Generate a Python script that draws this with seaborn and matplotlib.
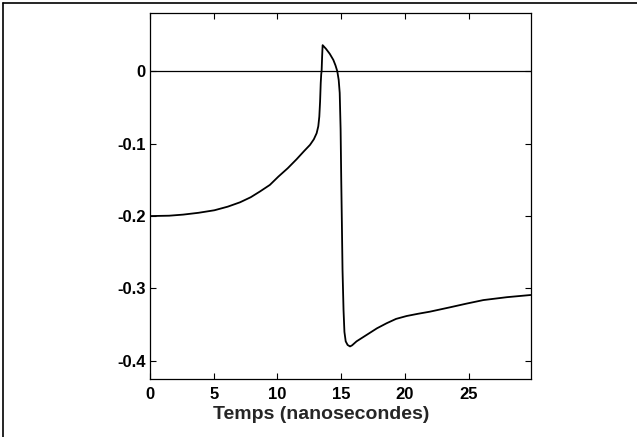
import seaborn as sns
import numpy as np
import pandas as pd
import matplotlib.pyplot as plt
from matplotlib.lines import Line2D

# values
time_ns = [0.0, 1.5, 2.6, 3.8, 5.05, 6.1, 7.06, 7.9, 8.63, 9.4, 10.07, 10.8, 11.5,
           12.1, 12.55, 12.85, 13.07, 13.2, 13.28, 13.34, 13.39, 13.43, 13.46, 13.5,
           13.54, 13.8, 14.1, 14.38, 14.55, 14.69, 14.8, 14.88, 14.95, 15.0, 15.05,
           15.1, 15.18, 15.25, 15.35, 15.5, 15.69, 15.85, 16.2, 16.6, 17.0, 17.8,
           18.56, 19.3, 20.13, 21.0, 21.96, 23.53, 24.8, 26.15, 28.0, 29.86]
signal = [-0.200, -0.1995, -0.198, -0.1955, -0.192, -0.187, -0.181, -0.174, -0.166,
          -0.157, -0.1455, -0.134, -0.1215, -0.110, -0.1017, -0.094, -0.0856, -0.076,
          -0.0626, -0.042, -0.0166, -0.004, 0.0, 0.020, 0.036, 0.031, 0.024, 0.0156,
          0.008, 0.0, -0.012, -0.030, -0.080, -0.150, -0.210, -0.274, -0.330, -0.360,
          -0.373, -0.378, -0.380, -0.3785, -0.373, -0.3685, -0.364, -0.355, -0.348,
          -0.342, -0.338, -0.335, -0.332, -0.326, -0.321, -0.316, -0.312, -0.309]
x_ticks = [0, 5, 10, 15, 20, 25]
y_ticks = [-0.4, -0.3, -0.2, -0.1, 0.0]
y_tick_labels = ["-0.4", "-0.3", "-0.2", "-0.1", "0"]

df = pd.DataFrame({"t": time_ns, "v": signal})

sns.set_style("ticks")
plt.rcParams["font.family"] = ["Liberation Sans", "DejaVu Sans"]
plt.rcParams["font.weight"] = "bold"

fig = plt.figure(figsize=(6.37, 4.37), dpi=100)
ax = fig.add_axes([0.2355, 0.1327, 0.8331 - 0.2355, 0.9696 - 0.1327])

ax.axhline(0, color="black", lw=0.9)
sns.lineplot(data=df, x="t", y="v", ax=ax, color="black", lw=1.3,
             sort=False, estimator=None)

ax.set_xlim(0, 29.86)
ax.set_ylim(-0.425, 0.08)
ax.set_xticks(x_ticks)
ax.set_xticklabels([str(t) for t in x_ticks], fontsize=12, fontweight="bold")
ax.set_yticks(y_ticks)
ax.set_yticklabels(y_tick_labels, fontsize=12, fontweight="bold")
ax.tick_params(direction="in", length=4, width=0.8, top=True, right=True,
               colors="black")
ax.tick_params(axis="x", pad=6)
ax.tick_params(axis="y", pad=3)
for s in ax.spines.values():
    s.set_linewidth(0.9)
    s.set_color("black")

ax.set_ylabel("")
ax.set_xlabel("Temps (nanosecondes)", fontsize=14, fontweight="bold")
ax.xaxis.set_label_coords(0.449, -0.075)

# scanned page frame (left and top edges)
fig.add_artist(Line2D([3 / 637, 3 / 637], [0, 1 - 2.5 / 437], color="black", lw=1.2))
fig.add_artist(Line2D([3 / 637, 1], [1 - 2.5 / 437, 1 - 2.5 / 437], color="black", lw=1.2))

fig.savefig("out.png", dpi=100)
